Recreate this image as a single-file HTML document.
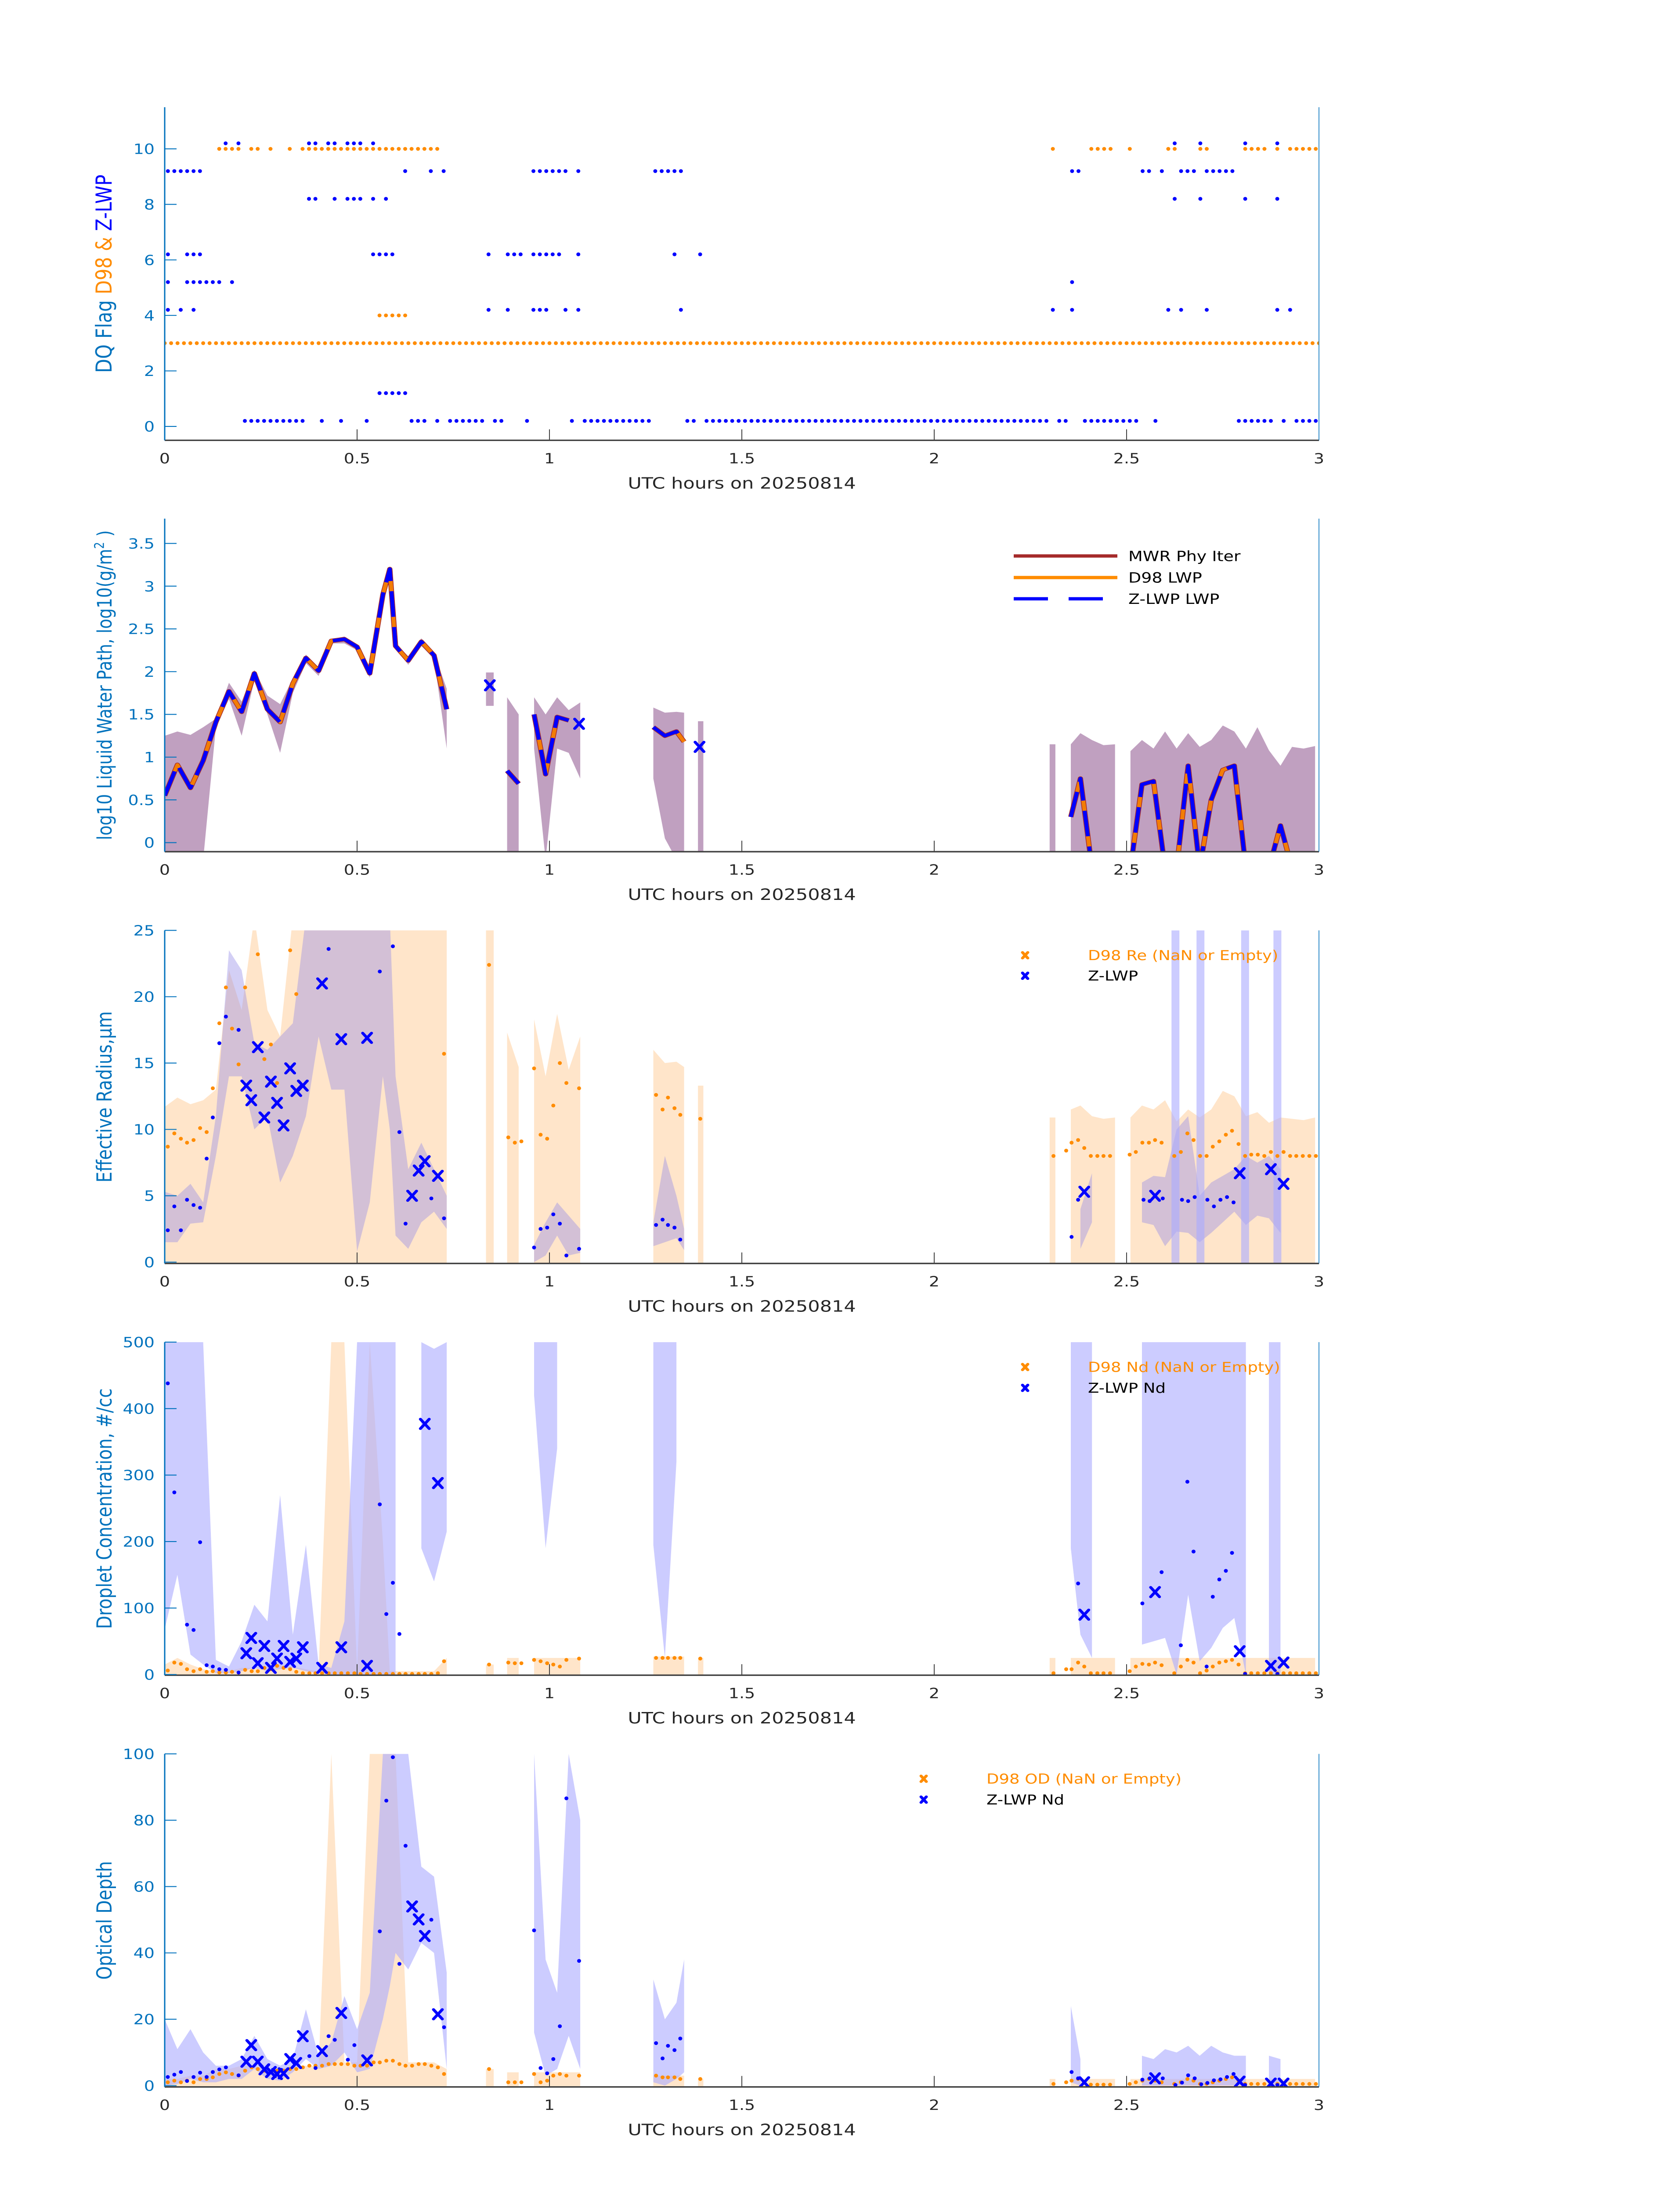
<!DOCTYPE html>
<html><head><meta charset="utf-8"><title>DQ / LWP / Re / Nd / OD</title>
<style>
html,body{margin:0;padding:0;background:#fff;width:100%;height:100%;overflow:hidden;}
svg{display:block;width:100vw;height:100vh;font-family:"DejaVu Sans","Liberation Sans",sans-serif;}
</style></head>
<body>
<svg id="fig" xmlns="http://www.w3.org/2000/svg" viewBox="0 0 3825 6000" preserveAspectRatio="none">
<rect width="3825" height="6000" fill="#fff"/>
</svg>
<script>
// ---------------- DATA ----------------
// Panel 1: DQ flags (times in minutes)
const zLevels = [9.2,10.2,8.2,6.2,5.2,4.2,1.2,0.2];
const zFlag92 = [0.5,1.5,2.5,3.5,4.5,5.5,37.5,41.5,43.5,57.5,58.5,59.5,60.5,61.5,62.5,64.5,76.5,77.5,78.5,79.5,80.5,141.5,142.5,152.5,153.5,155.5,158.5,159.5,160.5,162.5,163.5,164.5,165.5,166.5];
const zFlag102 = [9.5,11.5,22.5,23.5,25.5,26.5,28.5,29.5,30.5,32.5,157.5,161.5,168.5,173.5];
const zFlag82 = [22.5,23.5,26.5,28.5,29.5,30.5,32.5,34.5,157.5,161.5,168.5,173.5];
const zFlag62 = [0.5,3.5,4.5,5.5,32.5,33.5,34.5,35.5,50.5,53.5,54.5,55.5,57.5,58.5,59.5,60.5,61.5,64.5,79.5,83.5];
const zFlag52 = [0.5,3.5,4.5,5.5,6.5,7.5,8.5,10.5,141.5];
const zFlag42 = [0.5,2.5,4.5,50.5,53.5,57.5,58.5,59.5,62.5,64.5,80.5,138.5,141.5,156.5,158.5,162.5,173.5,175.5];
const zFlag12 = [33.5,34.5,35.5,36.5,37.5];
const zFlag02 = [12.5,13.5,14.5,15.5,16.5,17.5,18.5,19.5,20.5,21.5,24.5,27.5,31.5,38.5,39.5,40.5,42.5,44.5,45.5,46.5,47.5,48.5,49.5,51.5,52.5,56.5,63.5,65.5,66.5,67.5,68.5,69.5,70.5,71.5,72.5,73.5,74.5,75.5,81.5,82.5,84.5,85.5,86.5,87.5,88.5,89.5,90.5,91.5,92.5,93.5,94.5,95.5,96.5,97.5,98.5,99.5,100.5,101.5,102.5,103.5,104.5,105.5,106.5,107.5,108.5,109.5,110.5,111.5,112.5,113.5,114.5,115.5,116.5,117.5,118.5,119.5,120.5,121.5,122.5,123.5,124.5,125.5,126.5,127.5,128.5,129.5,130.5,131.5,132.5,133.5,134.5,135.5,136.5,137.5,139.5,140.5,143.5,144.5,145.5,146.5,147.5,148.5,149.5,150.5,151.5,154.5,167.5,168.5,169.5,170.5,171.5,172.5,174.5,176.5,177.5,178.5,179.5];
const d98Levels = [10,4,3];
const d98Flag10 = [8.5,9.5,10.5,11.5,13.5,14.5,16.5,19.5,21.5,22.5,23.5,24.5,25.5,26.5,27.5,28.5,29.5,30.5,31.5,32.5,33.5,34.5,35.5,36.5,37.5,38.5,39.5,40.5,41.5,42.5,138.5,144.5,145.5,146.5,147.5,150.5,156.5,157.5,161.5,162.5,168.5,169.5,170.5,171.5,173.5,175.5,176.5,177.5,178.5,179.5];
const d98Flag4 = [33.5,34.5,35.5,36.5,37.5];
const d98Flag3 = [0,1,2,3,4,5,6,7,8,9,10,11,12,13,14,15,16,17,18,19,20,21,22,23,24,25,26,27,28,29,30,31,32,33,34,35,36,37,38,39,40,41,42,43,44,45,46,47,48,49,50,51,52,53,54,55,56,57,58,59,60,61,62,63,64,65,66,67,68,69,70,71,72,73,74,75,76,77,78,79,80,81,82,83,84,85,86,87,88,89,90,91,92,93,94,95,96,97,98,99,100,101,102,103,104,105,106,107,108,109,110,111,112,113,114,115,116,117,118,119,120,121,122,123,124,125,126,127,128,129,130,131,132,133,134,135,136,137,138,139,140,141,142,143,144,145,146,147,148,149,150,151,152,153,154,155,156,157,158,159,160,161,162,163,164,165,166,167,168,169,170,171,172,173,174,175,176,177,178,179,180];

// Shared grid (hours) for bands and lines
const T = [0,0.033,0.067,0.1,0.133,0.167,0.2,0.233,0.267,0.3,0.333,0.367,0.4,0.433,0.467,0.5,0.533,0.567,0.585,0.6,0.633,0.667,0.7,0.733,
 0.835,0.855, 0.89,0.92,0.96,0.99,1.02,1.05,1.08, 1.27,1.30,1.33,1.35, 1.386,1.40, 2.30,2.315, 2.355,2.38,2.41,2.44,2.47,
 2.51,2.54,2.57,2.60,2.63,2.66,2.69,2.72,2.75,2.78,2.81,2.84,2.87,2.90,2.93,2.96,2.99];

// Panel 2: LWP
const lwpHi = [1.25,1.3,1.26,1.35,1.45,1.87,1.65,2.02,1.72,1.62,1.92,2.2,2.05,2.38,2.41,2.31,2.0,2.95,3.2,2.33,2.18,2.39,2.22,1.8,
 1.99,1.99, 1.7,1.5,1.7,1.5,1.7,1.55,1.64, 1.58,1.52,1.53,1.52, 1.42,1.42, 1.15,1.15, 1.15,1.28,1.2,1.14,1.15,
 1.07,1.2,1.1,1.3,1.1,1.28,1.12,1.2,1.37,1.3,1.1,1.35,1.08,0.9,1.12,1.1,1.13];
const lwpLo = [-0.2,-0.2,-0.2,-0.2,1.35,1.68,1.25,1.9,1.5,1.05,1.75,2.1,1.95,2.33,2.33,2.25,1.93,2.8,3.15,2.28,2.08,2.3,2.15,1.1,
 1.6,1.6, -0.2,-0.2,1.1,-0.2,1.1,1.05,0.75, 0.75,0.05,-0.2,-0.2, -0.2,-0.2, -0.2,-0.2, -0.2,-0.2,-0.2,-0.2,-0.2,
 -0.2,-0.2,-0.2,-0.2,-0.2,-0.2,-0.2,-0.2,-0.2,-0.2,-0.2,-0.2,-0.2,-0.2,-0.2,-0.2,-0.2];
const lwpLine = [0.55,0.91,0.64,0.96,1.41,1.77,1.53,1.98,1.56,1.41,1.86,2.16,2.01,2.36,2.38,2.29,1.98,2.9,3.2,2.3,2.13,2.35,2.19,1.56,
 null,null, 0.84,0.69,1.5,0.8,1.47,1.43,null, 1.35,1.25,1.3,1.18, null,null, null,null, 0.3,0.75,-0.3,null,null,
 -0.3,0.68,0.72,-0.3,-0.3,0.9,-0.3,0.5,0.85,0.9,-0.3,null,-0.3,0.2,-0.3,null,null];
const lwpMarkT = [0.845,1.077,1.39];
const lwpMarkV = [1.84,1.39,1.12];

// Panel 3: Effective radius
const reHi = [11.7,12.4,11.9,12.2,13,22,19,26,19,17,26,26,26,26,26,26,26,26,26,26,26,26,26,26,
 26,26, 17.3,14.7,18.3,14,18.7,14.5,17, 16,15,15.1,14.7, 13.3,13.3, 10.9,10.9, 11.5,11.8,11,10.8,10.9,
 10.9,11.8,11.5,12.2,10.6,11.5,10.9,11.5,12.9,12.5,11,11.3,10.5,10.9,10.8,10.7,10.9];
const reLo = [-1,-1,-1,-1,-1,-1,-1,-1,-1,-1,-1,-1,-1,-1,-1,-1,-1,-1,-1,-1,-1,-1,-1,-1,
 -1,-1, -1,-1,-1,-1,-1,-1,-1, -1,-1,-1,-1, -1,-1, -1,-1, -1,-1,-1,-1,-1,
 -1,-1,-1,-1,-1,-1,-1,-1,-1,-1,-1,-1,-1,-1,-1,-1,-1];
const zReHi = [5.3,5,5.9,4.5,11,23.5,22,16.5,16,17,18,26,26,26,26,26,26,26,26,14,7,9,7,5,
 null,null, null,null,1.3,3,4.5,3.5,2.5, 3,8,5,2.5, null,null, null,null, null,4,6.7,null,null,
 null,6,6.5,6.4,10,11,5,6,6.5,7,8,7.5,8,7,null,null,null];
const zReLo = [1.5,1.5,2.9,3,8,14,14,10,11,6,8,11,17,13,13,0.8,4.5,14,10,2,1,3,3.8,2.5,
 null,null, null,null,0,0.5,2,0.5,0.7, 1.2,1.5,1.8,0.9, null,null, null,null, null,1,3,null,null,
 null,3,2.8,1.2,2.3,2.2,1.5,2.2,3,3.8,2.8,3.5,3.3,2.2,null,null,null];
const zSpikeT = [2.627,2.692,2.808,2.892];

// D98 retrieval times (hours) for orange dots
const dT = [0.008,0.025,0.042,0.058,0.075,0.092,0.109,0.125,0.142,0.159,0.175,0.192,0.209,0.226,0.242,0.259,0.276,0.292,0.309,0.326,0.342,0.359,0.376,0.392,0.409,0.426,0.442,0.459,0.476,0.493,0.509,0.526,0.543,0.559,0.576,0.593,0.61,0.626,0.643,0.66,0.676,0.693,0.71,0.726,
 0.843, 0.893,0.91,0.927,0.96,0.977,0.994,1.01,1.027,1.044,1.077, 1.277,1.294,1.308,1.325,1.34,1.392,
 2.31,2.343,2.357,2.374,2.39,2.407,2.424,2.44,2.457,
 2.508,2.524,2.541,2.558,2.574,2.591,2.608,2.624,2.641,2.658,2.674,2.691,2.708,2.724,2.741,2.758,2.774,2.791,2.808,2.824,2.841,2.858,2.875,2.892,2.908,2.925,2.941,2.958,2.975,2.992];
const reD98 = [8.7,9.7,9.3,9.0,9.2,10.1,9.8,13.1,18.0,20.7,17.6,14.9,20.7,null,23.2,15.3,16.4,13.5,null,23.5,20.2,
 null,null,null,null,null,null,null,null,null,null,null,null,null,null,null,null,null,null,null,null,null,null,15.7,
 22.4, 9.4,9.0,9.1,14.6,9.6,9.3,11.8,15.0,13.5,13.1, 12.6,11.5,12.4,11.6,11.1,10.8,
 8.0,8.4,9.0,9.2,8.6,8,8,8,8,
 8.1,8.3,9.0,9.0,9.2,9.0,null,8.0,8.3,9.7,9.2,8.0,8.0,8.7,9.1,9.6,9.9,8.9,8,8.1,8.1,8.0,8.3,8,8.3,8,8,8,8,8];
const zReDotT = [0.008,0.025,0.042,0.058,0.075,0.092,0.109,0.125,0.142,0.159,0.192,0.426,0.559,0.593,0.61,0.626,0.693,0.726,0.96,0.977,0.994,1.01,1.027,1.044,1.077,1.277,1.294,1.308,1.325,1.34,2.357,2.374,2.544,2.56,2.594,2.644,2.66,2.677,2.71,2.727,2.744,2.761,2.778];
const zReDotV = [2.4,4.2,2.4,4.7,4.3,4.1,7.8,10.9,16.5,18.5,17.5,23.6,21.9,23.8,9.8,2.9,4.8,3.3,1.1,2.5,2.6,3.6,2.9,0.5,1.0,2.8,3.2,2.8,2.6,1.7,1.9,4.7,4.7,4.6,4.8,4.7,4.6,4.9,4.7,4.2,4.7,4.9,4.5];
const zReMarkT = [0.212,0.225,0.242,0.259,0.276,0.292,0.309,0.326,0.342,0.359,0.409,0.459,0.526,0.643,0.66,0.676,0.71,2.39,2.574,2.794,2.875,2.908];
const zReMarkV = [13.3,12.2,16.2,10.9,13.6,12.0,10.3,14.6,12.9,13.3,21.0,16.8,16.9,5.0,6.9,7.6,6.5,5.3,5.0,6.7,7.0,5.9];

// Panel 4: droplet concentration
const ndHi = [15,25,15,8,5,5,10,10,12,15,12,8,5,500,500,5,500,200,5,5,5,5,5,25,
 15,15, 25,25,25,25,25,25,25, 27,27,27,27, 25,25, 25,25, 25,25,25,25,25,
 25,25,25,25,25,25,25,25,25,25,25,25,25,25,25,25,25];
const ndLo = [-5,-5,-5,-5,-5,-5,-5,-5,-5,-5,-5,-5,-5,-5,-5,-5,-5,-5,-5,-5,-5,-5,-5,-5,
 -5,-5, -5,-5,-5,-5,-5,-5,-5, -5,-5,-5,-5, -5,-5, -5,-5, -5,-5,-5,-5,-5,
 -5,-5,-5,-5,-5,-5,-5,-5,-5,-5,-5,-5,-5,-5,-5,-5,-5];
const zNdHi = [500,500,500,500,22,12,50,105,80,270,60,195,15,10,80,500,500,500,500,500,null,500,490,500,
 null,null, null,null,500,500,500,null,null, 500,500,500,null, null,null, null,null, 500,500,500,null,null,
 null,500,500,500,500,500,500,500,500,500,500,null,500,500,null,null,null];
const zNdLo = [68,150,30,15,2,2,5,10,5,8,10,5,2,0,0,0,0,0,0,0,null,190,140,215,
 null,null, null,null,420,190,340,null,null, 195,25,320,null, null,null, null,null, 190,60,25,null,null,
 null,45,50,55,0,120,20,40,70,85,0,null,0,0,null,null,null];
const ndD98 = [6,18,16,8,5,8,4,5,3,3,4,3,7,5,5,10,8,13,10,8,4,2,2,2,2,2,2,2,2,2,1,1,1,1,1,1,1,1,1,1,1,1,2,20,
 15, 18,17,17,22,20,17,15,12,22,24, 25,25,25,25,25,24,
 2,8,8,18,12,2,2,2,2,
 5,12,16,15,18,14,null,2,12,22,18,2,6,12,18,20,22,15,2,2,2,2,2,2,2,2,2,2,2,2];
const zNdDotT = [0.008,0.025,0.058,0.075,0.092,0.109,0.125,0.142,0.159,0.192,0.559,0.576,0.593,0.61,2.374,2.541,2.591,2.641,2.658,2.674,2.708,2.724,2.741,2.758,2.774,2.808,2.892];
const zNdDotV = [438,274,75,67,199,14,12,8,7,3,256,91,138,61,137,107,154,44,290,185,12,117,143,156,183,1,1];
const zNdMarkT = [0.212,0.225,0.242,0.259,0.276,0.292,0.309,0.326,0.342,0.359,0.409,0.459,0.526,0.676,0.71,2.39,2.574,2.794,2.875,2.908];
const zNdMarkV = [32,55,17,43,10,24,43,19,24,41,10,41,13,377,288,90,124,35,13,18];

// Panel 5: optical depth
const odHi = [2,2,3,3,5,5,6,6,5,5,6,6,6,100,7,7,100,100,100,100,7,7,7,5,
 5,5, 4,4,4,4,4,4,4, 3,3,3,3, 2,2, 2,2, 2,2,2,2,2,
 2,2,2,2,2,2,2,2,2,2,2,2,2,2,2,2,2];
const odLo = [-1,-1,-1,-1,-1,-1,-1,-1,-1,-1,-1,-1,-1,-1,-1,-1,-1,-1,-1,-1,-1,-1,-1,-1,
 -1,-1, -1,-1,-1,-1,-1,-1,-1, -1,-1,-1,-1, -1,-1, -1,-1, -1,-1,-1,-1,-1,
 -1,-1,-1,-1,-1,-1,-1,-1,-1,-1,-1,-1,-1,-1,-1,-1,-1];
const zOdHi = [20,11,17,10,6,6,8,15,8,6,8,23,9,13,27,17,28,100,100,100,100,66,63,34,
 null,null, null,null,100,38,28,100,80, 32,20,25,38, null,null, null,null, 24,8,null,null,null,
 null,9,8,11,10,12,9,12,10,9,9,null,9,8,null,null,null];
const zOdLo = [0,0.5,2,1,1,2,2,5,2,1.5,4,8,5,6,10,4,5,20,30,40,35,43,40,5,
 null,null, null,null,16,3,5,15,5, 1,0,2,4, null,null, null,null, 1,0,null,null,null,
 null,0,0,0,0,0,0,0,0,0,0,null,0,0,null,null,null];
const odD98 = [1,1.5,1,1.5,1,2,2,2.5,3.5,4,3.5,3,4.5,5.5,5,4.5,4,4.5,4.5,5,5,5.5,6,6,6,6.5,6.5,6.5,6.5,6,6,6,7,7,7.5,7.5,6.5,6,6,6.5,6.5,6,5.5,3.5,
 5, 1,1,1,3.5,1,1.5,3,3.5,3,3, 3,2.5,2.5,2.5,2,2,
 0.5,1,1.5,2,1,0.3,0.3,0.3,0.3,
 0.5,1,1.5,2,1.5,1,null,0.5,1,2,1.5,0.5,0.5,1,1.5,2,2.5,1.5,0.5,0.5,0.5,0.5,0.5,0.5,0.5,0.5,0.5,0.5,0.5,0.5];
const zOdDotT = [0.008,0.025,0.042,0.058,0.075,0.092,0.109,0.125,0.142,0.159,0.192,0.376,0.392,0.426,0.442,0.476,0.493,0.559,0.576,0.593,0.61,0.626,0.693,0.726,0.96,0.977,0.994,1.01,1.027,1.044,1.077,1.277,1.294,1.308,1.325,1.34,2.357,2.374,2.541,2.56,2.594,2.627,2.644,2.66,2.677,2.694,2.71,2.727,2.744,2.761,2.778,2.808,2.892];
const zOdDotV = [2.6,3.3,4.1,1.4,2.6,3.9,2.6,4.1,4.9,5.5,3.1,8.9,5.3,14.9,13.8,7.8,12.2,46.5,85.9,99,36.7,72.3,50,17.6,46.8,5.3,3.7,8,17.9,86.6,37.6,12.8,8.2,12,10.7,14.2,4.1,2.2,1.8,2.2,2.2,0.2,0.9,3.1,2.2,0.4,0.8,1.6,1.9,2.6,3.5,0.2,0.2];
const zOdMarkT = [0.212,0.225,0.242,0.259,0.276,0.292,0.309,0.326,0.342,0.359,0.409,0.459,0.526,0.643,0.66,0.676,0.71,2.39,2.574,2.794,2.875,2.908];
const zOdMarkV = [7.2,12.2,7.2,4.9,4.1,3.5,3.7,8,6.8,14.9,10.4,21.9,7.6,54,50.1,45.1,21.5,1,2.2,1.2,0.6,0.6];

const xTicks = [0,0.5,1,1.5,2,2.5,3];
const xTickLabels = ["0","0.5","1","1.5","2","2.5","3"];
const p1Ticks = [0,2,4,6,8,10];
const p2Ticks = [0,0.5,1,1.5,2,2.5,3,3.5];
const p2TickLabels = ["0","0.5","1","1.5","2","2.5","3","3.5"];
const p3Ticks = [0,5,10,15,20,25];
const p4Ticks = [0,100,200,300,400,500];
const p5Ticks = [0,20,40,60,80,100];

// ---------------- DRAWING ----------------
const NS = "http://www.w3.org/2000/svg";
const svg = document.getElementById('fig');
const X0 = 375, X1 = 3003;
const H = 910;
const ORANGE = "#FF8C00", BLUE = "#0000FF", AXC = "#0072BD";
function sx(h){ return X0 + h*(X1-X0)/3; }
function mk(tag, attrs, parent){
  const e = document.createElementNS(NS, tag);
  for (const k in attrs) e.setAttribute(k, attrs[k]);
  (parent||svg).appendChild(e);
  return e;
}
function makePanel(name, top, lo, hi){
  const bot = top + H;
  const g = mk('g', {});
  
  
  const cp = mk('clipPath', {id: name + '-clip'}, g);
  mk('rect', {x: X0, y: top, width: X1-X0, height: H}, cp);
  const plot = mk('g', {'clip-path': 'url(#' + name + '-clip)'}, g);
  
  
  const sy = v => bot - (v - lo)/(hi - lo)*H;
  return {g, plot, top, bot, sy};
}
function segments(tArr, a, b){
  const segs = []; let cur = [];
  for (let i = 0; i < tArr.length; i++){
    const ok = a[i] !== null && (b ? b[i] !== null : true);
    if (!ok){ if (cur.length) segs.push(cur); cur = []; continue; }
    if (cur.length && tArr[i] - tArr[cur[cur.length-1]] > 0.0345){ segs.push(cur); cur = []; }
    cur.push(i);
  }
  if (cur.length) segs.push(cur);
  return segs;
}
function drawBand(P, tArr, hiA, loA, color, name){
  segments(tArr, hiA, loA).forEach(s => {
    if (s.length < 2) return;
    let d = '';
    s.forEach((i, k) => { d += (k ? 'L' : 'M') + sx(tArr[i]).toFixed(1) + ',' + P.sy(hiA[i]).toFixed(1); });
    for (let k = s.length - 1; k >= 0; k--){ const i = s[k]; d += 'L' + sx(tArr[i]).toFixed(1) + ',' + P.sy(loA[i]).toFixed(1); }
    const p = mk('path', {d: d + 'Z', fill: color, stroke: 'none'}, P.plot);
    
    
  });
}
function drawLine(P, tArr, vA, attrs, name){
  segments(tArr, vA).forEach(s => {
    if (s.length < 2) return;
    let d = '';
    s.forEach((i, k) => { d += (k ? 'L' : 'M') + sx(tArr[i]).toFixed(1) + ',' + P.sy(vA[i]).toFixed(1); });
    const a = Object.assign({d: d, fill: 'none', 'stroke-linejoin': 'round'}, attrs);
    const p = mk('path', a, P.plot);
    
    
  });
}
function drawDots(P, tArr, vA, color, r, name, tScale){
  for (let i = 0; i < tArr.length; i++){
    if (vA[i] === null) continue;
    const c = mk('ellipse', {cx: sx(tArr[i]*(tScale||1)), cy: P.sy(vA[i]), rx: r, ry: r*1.15, fill: color}, P.plot);
    
    
  }
}
function xMark(parent, x, y, color, s){
  const g = mk('g', {stroke: color, 'stroke-width': 7, 'stroke-linecap': 'round'}, parent);
  mk('line', {x1: x-s, y1: y-s*1.3, x2: x+s, y2: y+s*1.3}, g);
  mk('line', {x1: x-s, y1: y+s*1.3, x2: x+s, y2: y-s*1.3}, g);
  return g;
}
function drawMarks(P, tArr, vA, color, name){
  for (let i = 0; i < tArr.length; i++){
    const m = xMark(P.plot, sx(tArr[i]), P.sy(vA[i]), color, 10);
    
    
  }
}
function drawAxes(P, yTicks, yLabels, pname){
  const g = P.g;
  const b = mk('line', {x1: X0, y1: P.bot, x2: X1, y2: P.bot, stroke: '#404040', 'stroke-width': 4}, g);
  
  
  xTicks.forEach((t, i) => {
    if (i > 0 && i < xTicks.length - 1) mk('line', {x1: sx(t), y1: P.bot, x2: sx(t), y2: P.bot - 30, stroke: '#404040', 'stroke-width': 2}, g);
    const tx = mk('text', {x: sx(t), y: P.bot + 63, 'font-size': 38, fill: '#262626', 'text-anchor': 'middle'}, g);
    tx.textContent = xTickLabels[i];
    
    
  });
  const xl = mk('text', {x: (X0+X1)/2, y: P.bot + 132, 'font-size': 43, fill: '#262626', 'text-anchor': 'middle'}, g);
  xl.textContent = 'UTC hours on 20250814';
  
  
  const l = mk('line', {x1: X0, y1: P.top, x2: X0, y2: P.bot, stroke: AXC, 'stroke-width': 3}, g);
  
  
  const r = mk('line', {x1: X1, y1: P.top, x2: X1, y2: P.bot, stroke: AXC, 'stroke-width': 2, 'stroke-opacity': 0.8}, g);
  
  
  yTicks.forEach((t, i) => {
    const y = P.sy(t);
    mk('line', {x1: X0, y1: y, x2: X0 + 27, y2: y, stroke: AXC, 'stroke-width': 2.5}, g);
    const tx = mk('text', {x: 352, y: y + 14, 'font-size': 38, fill: AXC, 'text-anchor': 'end'}, g);
    tx.textContent = yLabels[i];
    
    
  });
}
function yTitle(P, parts, pname, fs){
  const cy = (P.top + P.bot)/2;
  const t = mk('text', {x: 0, y: 0, 'font-size': fs || 47, 'text-anchor': 'middle', transform: 'translate(254,' + cy + ') rotate(-90)'}, P.g);
  parts.forEach(p => {
    const ts = mk('tspan', {fill: p[1]}, t);
    if (p[2]) { ts.setAttribute('baseline-shift', 'super'); ts.setAttribute('font-size', 30); }
    ts.textContent = p[0];
  });
  
  
}
function legendMark(P, x, y, color, text, tcolor, name){
  const m = xMark(P.g, x, y, color, 6);
  
  
  const t = mk('text', {x: x + 143, y: y + 13, 'font-size': 37, fill: tcolor}, P.g);
  t.textContent = text;
  
  
}

// ---- Panel 1 ----
const P1 = makePanel('dq-flag-panel', 293, -0.5, 11.5);
drawDots(P1, d98Flag3, d98Flag3.map(() => d98Levels[2]), ORANGE, 4.5, 'd98-flag-point', 1/60);
drawDots(P1, d98Flag10, d98Flag10.map(() => d98Levels[0]), ORANGE, 4.5, 'd98-flag-point', 1/60);
drawDots(P1, d98Flag4, d98Flag4.map(() => d98Levels[1]), ORANGE, 4.5, 'd98-flag-point', 1/60);
[zFlag92, zFlag102, zFlag82, zFlag62, zFlag52, zFlag42, zFlag12, zFlag02].forEach((arr, k) => {
  drawDots(P1, arr, arr.map(() => zLevels[k]), BLUE, 4.5, 'zlwp-flag-point', 1/60);
});
drawAxes(P1, p1Ticks, p1Ticks.map(String), 'dq-flag');
yTitle(P1, [['DQ Flag  ', AXC], ['D98 &  ', ORANGE], ['Z-LWP', BLUE]], 'dq-flag', 50);

// ---- Panel 2 ----
const P2 = makePanel('lwp-panel', 1417, -0.106, 3.79);
drawBand(P2, T, lwpHi, lwpLo, '#C0A0C0', 'lwp-uncertainty-band');
drawLine(P2, T, lwpLine, {stroke: '#A52A2A', 'stroke-width': 12}, 'mwr-phy-iter-line');
drawLine(P2, T, lwpLine, {stroke: ORANGE, 'stroke-width': 9, 'stroke-opacity': 0.85}, 'd98-lwp-line');
drawLine(P2, T, lwpLine, {stroke: BLUE, 'stroke-width': 9, 'stroke-dasharray': '70 28'}, 'zlwp-lwp-line');
drawMarks(P2, lwpMarkT, lwpMarkV, BLUE, 'zlwp-lwp-marker');
drawAxes(P2, p2Ticks, p2TickLabels, 'lwp');
yTitle(P2, [['log10 Liquid Water Path, log10(g/m', AXC], ['2', AXC, true], [' )', AXC]], 'lwp', 45);
(function(){
  const rows = [[1519, '#A52A2A', null, 'MWR Phy Iter'], [1578, ORANGE, null, 'D98 LWP'], [1636, BLUE, '78 47', 'Z-LWP LWP']];
  rows.forEach(r => {
    const a = {x1: 2308, y1: r[0], x2: 2544, y2: r[0], stroke: r[1], 'stroke-width': 9};
    if (r[2]) a['stroke-dasharray'] = r[2];
    const ln = mk('line', a, P2.g);
    
    
    const t = mk('text', {x: 2569, y: r[0] + 14, 'font-size': 38, fill: '#000'}, P2.g);
    t.textContent = r[3];
    
    
  });
})();

// ---- Panel 3 ----
const P3 = makePanel('effective-radius-panel', 2542, -0.1, 25);
drawBand(P3, T, reHi, reLo, '#FFE5CA', 'd98-re-band');
drawBand(P3, T, zReHi, zReLo, 'rgba(150,140,230,0.42)', 'zlwp-re-band');
zSpikeT.forEach(t => {
  const r = mk('rect', {x: sx(t) - 9, y: P3.top, width: 18, height: H, fill: 'rgba(170,170,255,0.6)'}, P3.plot);
  
  
});
drawDots(P3, dT, reD98, ORANGE, 4.5, 'd98-re-point');
drawDots(P3, zReDotT, zReDotV, BLUE, 4.5, 'zlwp-re-point');
drawMarks(P3, zReMarkT, zReMarkV, BLUE, 'zlwp-re-marker');
drawAxes(P3, p3Ticks, p3Ticks.map(String), 'effective-radius');
yTitle(P3, [['Effective Radius,\u03BCm', AXC]], 'effective-radius', 47);
legendMark(P3, 2334, 2610, ORANGE, 'D98 Re (NaN or Empty)', ORANGE, 'legend-d98-re');
legendMark(P3, 2334, 2666, BLUE, 'Z-LWP', '#000', 'legend-zlwp');

// ---- Panel 4 ----
const P4 = makePanel('droplet-concentration-panel', 3667, -1, 500);
drawBand(P4, T, ndHi, ndLo, '#FFE5CA', 'd98-nd-band');
drawBand(P4, T, zNdHi, zNdLo, 'rgba(170,170,255,0.6)', 'zlwp-nd-band');
drawDots(P4, dT, ndD98, ORANGE, 4.5, 'd98-nd-point');
drawDots(P4, zNdDotT, zNdDotV, BLUE, 4.5, 'zlwp-nd-point');
drawMarks(P4, zNdMarkT, zNdMarkV, BLUE, 'zlwp-nd-marker');
drawAxes(P4, p4Ticks, p4Ticks.map(String), 'droplet-concentration');
yTitle(P4, [['Droplet Concentration, #/cc', AXC]], 'droplet-concentration', 47);
legendMark(P4, 2334, 3735, ORANGE, 'D98 Nd (NaN or Empty)', ORANGE, 'legend-d98-nd');
legendMark(P4, 2334, 3792, BLUE, 'Z-LWP Nd', '#000', 'legend-zlwp-nd');

// ---- Panel 5 ----
const P5 = makePanel('optical-depth-panel', 4792, -0.4, 100);
drawBand(P5, T, odHi, odLo, '#FFE5CA', 'd98-od-band');
drawBand(P5, T, zOdHi, zOdLo, 'rgba(170,170,255,0.6)', 'zlwp-od-band');
drawDots(P5, dT, odD98, ORANGE, 4.5, 'd98-od-point');
drawDots(P5, zOdDotT, zOdDotV, BLUE, 4.5, 'zlwp-od-point');
drawMarks(P5, zOdMarkT, zOdMarkV, BLUE, 'zlwp-od-marker');
drawAxes(P5, p5Ticks, p5Ticks.map(String), 'optical-depth');
yTitle(P5, [['Optical Depth', AXC]], 'optical-depth', 47);
legendMark(P5, 2103, 4860, ORANGE, 'D98 OD (NaN or Empty)', ORANGE, 'legend-d98-od');
legendMark(P5, 2103, 4917, BLUE, 'Z-LWP Nd', '#000', 'legend-zlwp-od');
</script>
</body></html>
